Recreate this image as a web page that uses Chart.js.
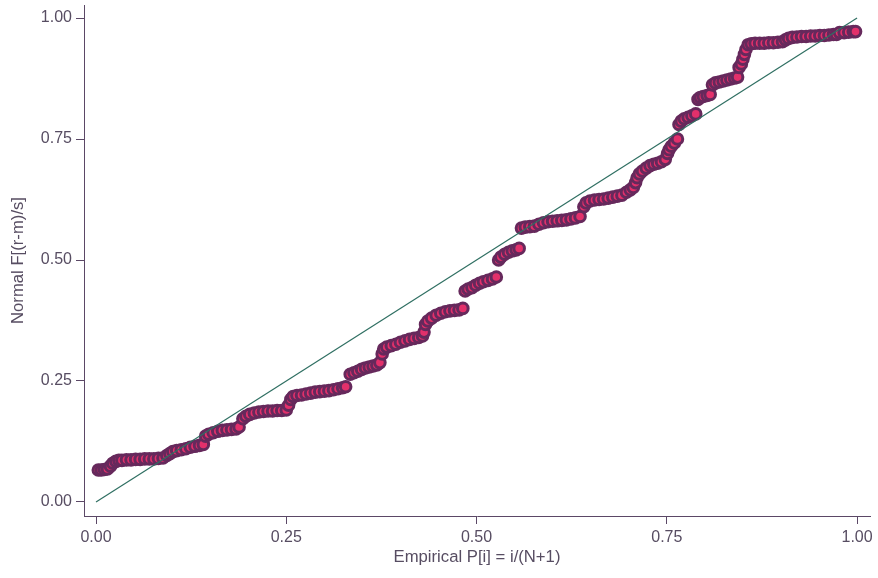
<!DOCTYPE html>
<html>
<head>
<meta charset="utf-8">
<script src="https://cdn.jsdelivr.net/npm/chart.js@4"></script>
<style>
  html, body { margin: 0; padding: 0; background: #fff; }
  #wrap { width: 878px; height: 578px; }
</style>
</head>
<body>
<div id="wrap"><canvas id="pnormChart" width="878" height="578"></canvas></div>
<script>
// Empirical P[i] = i/(N+1)
const empiricalP = [
  0.003, 0.007, 0.011, 0.015, 0.019, 0.022, 0.026, 0.030,
  0.034, 0.040, 0.046, 0.052, 0.058, 0.064, 0.070, 0.076, 0.082, 0.088,
  0.093, 0.097, 0.101, 0.106, 0.112, 0.118, 0.124, 0.130, 0.136, 0.141,
  0.144, 0.148, 0.154, 0.160, 0.166, 0.172, 0.178, 0.184, 0.188,
  0.193, 0.197, 0.202, 0.208, 0.214, 0.220, 0.226, 0.232, 0.238, 0.244, 0.250,
  0.253, 0.256, 0.259, 0.264, 0.270, 0.276, 0.282, 0.288, 0.294, 0.300, 0.306, 0.312, 0.318, 0.324, 0.328,
  0.334, 0.339, 0.344, 0.349, 0.354, 0.359, 0.364, 0.369, 0.373,
  0.376, 0.378, 0.382, 0.388, 0.394, 0.400, 0.406, 0.412, 0.418, 0.424, 0.429,
  0.431, 0.433, 0.436, 0.441, 0.447, 0.453, 0.459, 0.465, 0.471, 0.477, 0.482,
  0.485, 0.489, 0.494, 0.499, 0.504, 0.509, 0.515, 0.521, 0.526,
  0.529, 0.532, 0.537, 0.542, 0.547, 0.552, 0.556,
  0.559, 0.564, 0.570, 0.576, 0.582, 0.588, 0.594, 0.600, 0.606, 0.612, 0.618, 0.624, 0.630, 0.636,
  0.641, 0.644, 0.649, 0.655, 0.661, 0.667, 0.673, 0.679, 0.685, 0.691, 0.697, 0.702, 0.706,
  0.709, 0.711, 0.714, 0.718, 0.723, 0.728, 0.733, 0.738, 0.743, 0.748,
  0.751, 0.753, 0.756, 0.760, 0.764,
  0.766, 0.769, 0.773, 0.778, 0.783, 0.788,
  0.791, 0.794, 0.798, 0.803, 0.807,
  0.810, 0.814, 0.819, 0.824, 0.829, 0.834, 0.839, 0.843,
  0.845, 0.848, 0.850, 0.852, 0.854, 0.857,
  0.861, 0.866, 0.872, 0.878, 0.884, 0.890, 0.896, 0.902,
  0.906, 0.910, 0.915, 0.921, 0.927, 0.933, 0.939, 0.945, 0.951, 0.957, 0.963, 0.969, 0.973, 0.977, 0.983, 0.989, 0.995, 0.998
];

// Normal F[(r-m)/s] for each point above
const normalF = [
  0.066, 0.066, 0.067, 0.068, 0.074, 0.080, 0.084, 0.086,
  0.086, 0.087, 0.087, 0.088, 0.088, 0.089, 0.089, 0.089, 0.090, 0.091,
  0.096, 0.100, 0.104, 0.106, 0.108, 0.110, 0.113, 0.115, 0.117, 0.119,
  0.136, 0.140, 0.143, 0.146, 0.148, 0.149, 0.150, 0.151, 0.155,
  0.172, 0.177, 0.181, 0.184, 0.186, 0.187, 0.188, 0.188, 0.189, 0.189, 0.190,
  0.200, 0.212, 0.218, 0.220, 0.221, 0.223, 0.225, 0.227, 0.228, 0.229, 0.230, 0.232, 0.234, 0.236, 0.238,
  0.264, 0.267, 0.270, 0.274, 0.277, 0.279, 0.281, 0.283, 0.288,
  0.306, 0.316, 0.320, 0.323, 0.326, 0.330, 0.333, 0.336, 0.338, 0.340, 0.343,
  0.351, 0.367, 0.374, 0.380, 0.386, 0.390, 0.393, 0.395, 0.396, 0.397, 0.400,
  0.436, 0.440, 0.443, 0.448, 0.452, 0.455, 0.458, 0.461, 0.465,
  0.500, 0.506, 0.512, 0.516, 0.519, 0.521, 0.524,
  0.566, 0.568, 0.569, 0.570, 0.574, 0.577, 0.579, 0.580, 0.581, 0.582, 0.583, 0.585, 0.587, 0.590,
  0.610, 0.618, 0.622, 0.624, 0.625, 0.626, 0.628, 0.630, 0.632, 0.634, 0.640, 0.645, 0.650,
  0.660, 0.670, 0.678, 0.684, 0.690, 0.695, 0.698, 0.700, 0.703, 0.708,
  0.720, 0.728, 0.735, 0.742, 0.750,
  0.780, 0.787, 0.792, 0.795, 0.798, 0.802,
  0.832, 0.836, 0.838, 0.840, 0.842,
  0.862, 0.866, 0.868, 0.870, 0.872, 0.874, 0.876, 0.878,
  0.898, 0.905, 0.915, 0.925, 0.935, 0.945,
  0.947, 0.948, 0.948, 0.948, 0.949, 0.949, 0.950, 0.951,
  0.955, 0.958, 0.960, 0.961, 0.962, 0.962, 0.963, 0.963, 0.964, 0.964, 0.965, 0.966, 0.966, 0.970, 0.970, 0.971, 0.972, 0.972
];

// 45 degree reference line
const refLineX = [0, 1];
const refLineY = [0, 1];

const tickValues = [0, 0.25, 0.5, 0.75, 1];

const axisColor = '#5b4866';
const textColor = '#574d62';
const fontFamily = 'Liberation Sans, Arial, sans-serif';

document.addEventListener('DOMContentLoaded', function() {
    const ctx = document.getElementById('pnormChart').getContext('2d');

    const points = empiricalP.map((x, i) => ({ x: x, y: normalF[i] }));
    const refPoints = refLineX.map((x, i) => ({ x: x, y: refLineY[i] }));

    const fixTicks = function(scale) {
        scale.ticks = tickValues.map(v => ({ value: v }));
    };

    new Chart(ctx, {
        type: 'scatter',
        data: {
            datasets: [{
                label: 'pnorm',
                data: points,
                backgroundColor: '#e3306b',
                borderColor: '#66295c',
                borderWidth: 3,
                pointRadius: 5.3,
                order: 2
            }, {
                type: 'line',
                label: 'reference',
                data: refPoints,
                borderColor: '#2f6f62',
                borderWidth: 1.2,
                pointRadius: 0,
                fill: false,
                order: 1
            }]
        },
        options: {
            responsive: false,
            animation: false,
            layout: {
                autoPadding: false,
                padding: { top: 5, right: 8, bottom: 8, left: 0 }
            },
            plugins: {
                legend: { display: false },
                tooltip: { enabled: false }
            },
            scales: {
                x: {
                    type: 'linear',
                    min: -0.0158,
                    max: 1.017,
                    afterBuildTicks: fixTicks,
                    afterFit: function(scale) {
                        scale.height = 54;
                        scale.paddingLeft = 0;
                        scale.paddingRight = 0;
                    },
                    grid: {
                        drawOnChartArea: false,
                        drawTicks: true,
                        tickLength: 8,
                        tickColor: axisColor
                    },
                    border: { display: true, color: axisColor, width: 1 },
                    ticks: {
                        color: textColor,
                        font: { family: fontFamily, size: 16 },
                        padding: 4,
                        callback: v => v.toFixed(2)
                    },
                    title: {
                        display: true,
                        text: 'Empirical P[i] = i/(N+1)',
                        color: textColor,
                        font: { family: fontFamily, size: 16.7 },
                        padding: { top: 0, bottom: 3 }
                    }
                },
                y: {
                    type: 'linear',
                    min: -0.029,
                    max: 1.027,
                    afterBuildTicks: fixTicks,
                    afterFit: function(scale) {
                        scale.width = 84;
                        scale.paddingTop = 0;
                        scale.paddingBottom = 0;
                    },
                    grid: {
                        drawOnChartArea: false,
                        drawTicks: true,
                        tickLength: 8,
                        tickColor: axisColor
                    },
                    border: { display: true, color: axisColor, width: 1 },
                    ticks: {
                        color: textColor,
                        font: { family: fontFamily, size: 16 },
                        padding: 4,
                        callback: v => v.toFixed(2)
                    },
                    title: {
                        display: true,
                        text: 'Normal F[(r-m)/s]',
                        color: textColor,
                        font: { family: fontFamily, size: 16.7 },
                        padding: { top: 8, bottom: 0 }
                    }
                }
            }
        }
    });
});
</script>
</body>
</html>
